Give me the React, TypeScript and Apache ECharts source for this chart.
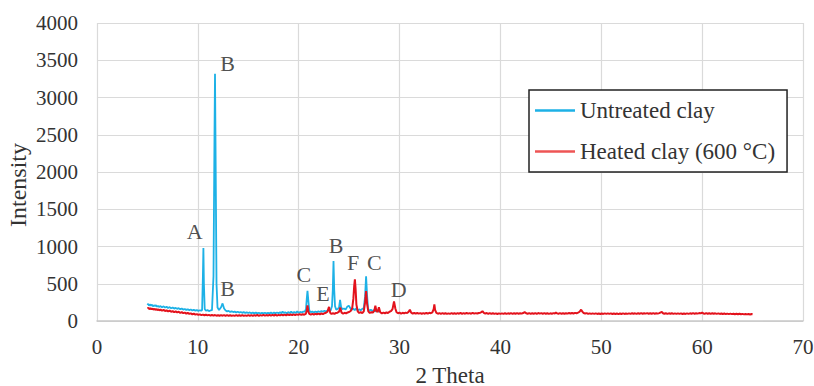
import React, { useEffect, useRef } from "react";
import * as echarts from "echarts";

// 2θ (deg), intensity — untreated clay
const untreatedPoints: [number, number][] = [
  [5.0, 215], [5.08, 232], [5.16, 205], [5.25, 222], [5.35, 208], [5.45, 218], [5.55, 198], [5.65, 210],
  [5.75, 201], [5.85, 212], [5.95, 192], [6.05, 204], [6.15, 190], [6.3, 199], [6.45, 185], [6.6, 196],
  [6.75, 181], [6.9, 190], [7.05, 175], [7.2, 186], [7.35, 171], [7.5, 180], [7.65, 167], [7.8, 176],
  [7.95, 163], [8.1, 172], [8.25, 158], [8.4, 167], [8.55, 153], [8.7, 161], [8.85, 149], [9.0, 157],
  [9.15, 146], [9.3, 154], [9.45, 142], [9.6, 150], [9.75, 139], [9.9, 147], [10.05, 136], [10.2, 144],
  [10.32, 137], [10.42, 148], [10.5, 600], [10.55, 980], [10.6, 500], [10.68, 160], [10.8, 138], [10.95, 146],
  [11.1, 133], [11.25, 141], [11.4, 146], [11.55, 600], [11.65, 2500], [11.7, 3320], [11.75, 2400], [11.85, 500],
  [11.95, 180], [12.1, 148], [12.3, 184], [12.45, 236], [12.6, 168], [12.75, 140], [12.9, 129], [13.05, 136],
  [13.2, 122], [13.35, 130], [13.5, 120], [13.65, 127], [13.8, 115], [13.95, 124], [14.1, 113], [14.25, 121],
  [14.4, 110], [14.55, 119], [14.7, 108], [14.85, 116], [15.0, 107], [15.15, 115], [15.3, 104], [15.45, 113],
  [15.6, 103], [15.75, 112], [15.9, 102], [16.05, 111], [16.2, 101], [16.35, 110], [16.5, 102], [16.65, 111],
  [16.8, 100], [16.95, 110], [17.1, 102], [17.25, 112], [17.4, 101], [17.55, 113], [17.7, 103], [17.85, 114],
  [18.0, 104], [18.15, 116], [18.3, 106], [18.4, 128], [18.5, 108], [18.65, 118], [18.8, 105], [18.95, 119],
  [19.1, 107], [19.25, 124], [19.4, 108], [19.55, 121], [19.7, 109], [19.85, 127], [20.0, 110], [20.15, 122],
  [20.3, 114], [20.45, 126], [20.6, 125], [20.72, 160], [20.8, 300], [20.87, 405], [20.95, 280], [21.05, 140],
  [21.2, 118], [21.35, 128], [21.5, 115], [21.65, 127], [21.8, 118], [21.95, 131], [22.1, 121], [22.25, 134],
  [22.4, 124], [22.55, 137], [22.7, 128], [22.85, 140], [23.0, 152], [23.15, 138], [23.3, 200], [23.38, 420],
  [23.45, 805], [23.52, 420], [23.6, 200], [23.72, 150], [23.88, 165], [24.0, 180], [24.1, 282], [24.2, 190],
  [24.32, 160], [24.5, 168], [24.65, 155], [24.8, 190], [24.97, 205], [25.1, 176], [25.25, 150], [25.4, 168],
  [25.55, 145], [25.7, 170], [25.85, 140], [26.0, 156], [26.15, 145], [26.3, 162], [26.45, 172], [26.58, 330],
  [26.68, 600], [26.78, 340], [26.88, 165], [27.0, 138], [27.15, 150], [27.3, 135], [27.45, 146], [27.6, 130],
  [27.8, 138], [28.0, 120],
];

// 2θ (deg), intensity — heated clay (600 °C)
const heatedPoints: [number, number][] = [
  [5.0, 168], [5.1, 178], [5.2, 160], [5.3, 170], [5.4, 158], [5.5, 167], [5.6, 152], [5.7, 163],
  [5.8, 150], [5.9, 160], [6.0, 146], [6.1, 156], [6.2, 143], [6.3, 152], [6.45, 139], [6.6, 149],
  [6.75, 134], [6.9, 143], [7.05, 129], [7.2, 139], [7.35, 124], [7.5, 133], [7.65, 119], [7.8, 128],
  [7.95, 115], [8.1, 124], [8.25, 110], [8.4, 119], [8.55, 105], [8.7, 113], [8.85, 100], [9.0, 108],
  [9.15, 95], [9.3, 103], [9.45, 90], [9.6, 98], [9.75, 86], [9.9, 93], [10.05, 82], [10.2, 89],
  [10.35, 79], [10.5, 86], [10.65, 77], [10.8, 84], [10.95, 75], [11.1, 82], [11.25, 73], [11.4, 80],
  [11.55, 72], [11.7, 80], [11.85, 71], [12.0, 78], [12.15, 70], [12.3, 79], [12.45, 71], [12.6, 80],
  [12.75, 70], [12.9, 78], [13.05, 69], [13.2, 77], [13.35, 68], [13.5, 76], [13.65, 69], [13.8, 78],
  [13.95, 68], [14.1, 77], [14.25, 69], [14.4, 79], [14.55, 68], [14.7, 76], [14.85, 69], [15.0, 78],
  [15.15, 70], [15.3, 80], [15.45, 70], [15.6, 79], [15.75, 71], [15.9, 81], [16.05, 70], [16.2, 79],
  [16.35, 72], [16.5, 82], [16.65, 71], [16.8, 80], [16.95, 73], [17.1, 83], [17.25, 72], [17.4, 82],
  [17.55, 74], [17.7, 84], [17.85, 73], [18.0, 83], [18.15, 75], [18.3, 86], [18.45, 76], [18.6, 85],
  [18.75, 77], [18.9, 88], [19.05, 78], [19.2, 87], [19.35, 79], [19.5, 90], [19.65, 80], [19.8, 89],
  [19.95, 82], [20.1, 92], [20.25, 83], [20.4, 91], [20.55, 85], [20.7, 95], [20.8, 140], [20.87, 210],
  [20.95, 130], [21.05, 96], [21.2, 86], [21.35, 95], [21.5, 87], [21.65, 97], [21.8, 88], [21.95, 99],
  [22.1, 90], [22.25, 101], [22.4, 92], [22.55, 104], [22.7, 110], [22.85, 125], [23.0, 190], [23.12, 112],
  [23.25, 95], [23.4, 104], [23.55, 96], [23.7, 108], [23.85, 112], [24.0, 125], [24.12, 182], [24.25, 112],
  [24.4, 100], [24.55, 110], [24.7, 102], [24.85, 115], [25.0, 120], [25.15, 135], [25.3, 170], [25.42, 300],
  [25.5, 470], [25.57, 560], [25.64, 430], [25.72, 220], [25.85, 130], [26.0, 108], [26.15, 118], [26.3, 106],
  [26.45, 130], [26.58, 250], [26.68, 400], [26.78, 230], [26.9, 130], [27.05, 108], [27.2, 118], [27.35, 112],
  [27.5, 140], [27.6, 205], [27.7, 135], [27.82, 120], [27.95, 185], [28.08, 118], [28.25, 102], [28.4, 112],
  [28.55, 104], [28.7, 115], [28.85, 108], [29.0, 124], [29.15, 132], [29.3, 160], [29.45, 262], [29.58, 168],
  [29.7, 118], [29.85, 104], [30.0, 112], [30.15, 100], [30.3, 110], [30.45, 102], [30.6, 113], [30.75, 106],
  [30.9, 125], [31.02, 152], [31.15, 112], [31.3, 100], [31.45, 108], [31.6, 98], [31.75, 107], [31.9, 99],
  [32.05, 106], [32.2, 97], [32.35, 105], [32.5, 98], [32.65, 108], [32.8, 100], [32.95, 110], [33.1, 104],
  [33.25, 116], [33.38, 160], [33.45, 222], [33.52, 150], [33.65, 108], [33.8, 98], [33.95, 106], [34.1, 96],
  [34.25, 105], [34.4, 97], [34.55, 104], [34.7, 95], [34.85, 103], [35.0, 96], [35.15, 105], [35.3, 97],
  [35.45, 104], [35.6, 96], [35.75, 106], [35.9, 98], [36.05, 108], [36.2, 97], [36.35, 105], [36.5, 98],
  [36.65, 107], [36.8, 99], [36.95, 106], [37.1, 98], [37.25, 109], [37.4, 99], [37.55, 106], [37.7, 100],
  [37.85, 108], [38.0, 112], [38.12, 120], [38.22, 132], [38.35, 110], [38.5, 100], [38.65, 107], [38.8, 97],
  [38.95, 106], [39.1, 96], [39.25, 104], [39.4, 95], [39.55, 103], [39.7, 94], [39.85, 102], [40.0, 95],
  [40.15, 103], [40.3, 96], [40.45, 104], [40.6, 95], [40.75, 103], [40.9, 97], [41.05, 105], [41.2, 96],
  [41.35, 104], [41.5, 97], [41.65, 106], [41.8, 98], [41.95, 104], [42.1, 99], [42.25, 107], [42.4, 119],
  [42.55, 104], [42.7, 97], [42.85, 105], [43.0, 96], [43.15, 104], [43.3, 98], [43.45, 106], [43.6, 97],
  [43.75, 107], [43.9, 99], [44.05, 106], [44.2, 98], [44.35, 105], [44.5, 97], [44.65, 104], [44.8, 96],
  [44.95, 103], [45.1, 98], [45.25, 106], [45.4, 100], [45.5, 114], [45.62, 102], [45.75, 97], [45.9, 105],
  [46.05, 98], [46.2, 104], [46.35, 97], [46.5, 105], [46.65, 99], [46.8, 107], [46.95, 100], [47.1, 108],
  [47.25, 101], [47.4, 109], [47.55, 104], [47.7, 112], [47.85, 124], [48.0, 152], [48.12, 126], [48.25, 108],
  [48.4, 100], [48.55, 106], [48.7, 96], [48.85, 103], [49.0, 95], [49.15, 102], [49.3, 96], [49.45, 103],
  [49.6, 95], [49.75, 101], [49.9, 94], [50.05, 101], [50.2, 95], [50.35, 102], [50.5, 96], [50.65, 103],
  [50.8, 95], [50.95, 102], [51.1, 94], [51.25, 101], [51.4, 95], [51.55, 100], [51.7, 93], [51.85, 101],
  [52.0, 94], [52.15, 102], [52.3, 95], [52.45, 101], [52.6, 96], [52.75, 103], [52.9, 96], [53.05, 104],
  [53.2, 97], [53.35, 103], [53.5, 96], [53.65, 104], [53.8, 98], [53.95, 105], [54.1, 97], [54.25, 104],
  [54.4, 99], [54.55, 106], [54.7, 98], [54.85, 104], [55.0, 97], [55.15, 105], [55.3, 98], [55.45, 104],
  [55.6, 99], [55.75, 106], [55.9, 116], [56.0, 122], [56.12, 104], [56.25, 97], [56.4, 104], [56.55, 96],
  [56.7, 103], [56.85, 97], [57.0, 104], [57.15, 96], [57.3, 102], [57.45, 95], [57.6, 103], [57.75, 96],
  [57.9, 102], [58.05, 94], [58.2, 101], [58.35, 95], [58.5, 102], [58.65, 96], [58.8, 103], [58.95, 97],
  [59.1, 105], [59.25, 98], [59.4, 104], [59.55, 99], [59.7, 106], [59.85, 103], [60.0, 114], [60.12, 102],
  [60.25, 98], [60.4, 106], [60.55, 97], [60.7, 104], [60.85, 96], [61.0, 104], [61.15, 97], [61.3, 103],
  [61.45, 96], [61.6, 102], [61.75, 95], [61.9, 101], [62.05, 94], [62.2, 100], [62.35, 93], [62.5, 99],
  [62.65, 92], [62.8, 99], [62.95, 92], [63.1, 98], [63.25, 91], [63.4, 97], [63.55, 90], [63.7, 97],
  [63.85, 90], [64.0, 96], [64.15, 89], [64.3, 95], [64.45, 89], [64.6, 95], [64.75, 88], [64.9, 94],
  [65.0, 91],
];

// peak labels: [2θ, intensity, phase]
const peakLabels: [number, number, string][] = [
  [9.69, 1195, "A"],
  [12.95, 3455, "B"],
  [12.95, 440, "B"],
  [20.5, 620, "C"],
  [22.4, 375, "E"],
  [23.7, 1020, "B"],
  [25.4, 790, "F"],
  [27.5, 790, "C"],
  [29.9, 420, "D"],
];

const seriesNames = ["Untreated clay", "Heated clay (600 °C)"];
const xTicks = { min: 0, max: 70, interval: 10 };
const yTicks = { min: 0, max: 4000, interval: 500 };
const axisTitles = { x: "2 Theta", y: "Intensity" };

const FONT = '"Liberation Serif", "Times New Roman", serif';
const TEXT = "#333333";

export default function App() {
  const ref = useRef<HTMLDivElement>(null);
  useEffect(() => {
    if (!ref.current) return;
    const chart = echarts.init(ref.current, undefined, { renderer: "svg" });
    chart.setOption({
      animation: false,
      backgroundColor: "#ffffff",
      textStyle: { fontFamily: FONT },
      grid: {
        left: 97,
        right: 11,
        top: 23,
        bottom: 65,
        containLabel: false,
        outerBoundsMode: "none",
      },
      legend: {
        data: seriesNames,
        orient: "vertical",
        left: 529,
        top: 90,
        icon: "rect",
        itemWidth: 40,
        itemHeight: 2.5,
        itemGap: 18,
        padding: [9, 12, 9, 6],
        borderColor: "#222222",
        borderWidth: 1.5,
        backgroundColor: "#ffffff",
        textStyle: { fontFamily: FONT, fontSize: 23, color: TEXT },
      },
      graphic: [
        {
          type: "text",
          x: 18,
          y: 185,
          rotation: Math.PI / 2,
          style: {
            text: axisTitles.y,
            fontFamily: FONT,
            fontSize: 24,
            fill: TEXT,
            align: "center",
            verticalAlign: "middle",
          },
        },
        {
          type: "text",
          x: 450,
          y: 375,
          style: {
            text: axisTitles.x,
            fontFamily: FONT,
            fontSize: 23,
            fill: TEXT,
            align: "center",
            verticalAlign: "middle",
          },
        },
      ],
      xAxis: {
        type: "value",
        min: xTicks.min,
        max: xTicks.max,
        interval: xTicks.interval,
        axisLine: { show: true, lineStyle: { color: "#c8c8c8", width: 1.5 } },
        axisTick: { show: false },
        axisLabel: {
          fontFamily: FONT,
          fontSize: 21,
          color: TEXT,
          margin: 15,
          overflow: "none",
          formatter: (v: number) => String(v),
        },
        splitLine: { show: true, lineStyle: { color: "#dadada", width: 1.2 } },
      },
      yAxis: {
        type: "value",
        min: yTicks.min,
        max: yTicks.max,
        interval: yTicks.interval,
        axisLine: { show: false },
        axisTick: { show: false },
        axisLabel: {
          fontFamily: FONT,
          fontSize: 21,
          color: TEXT,
          margin: 19,
          formatter: (v: number) => String(v),
        },
        splitLine: { show: true, lineStyle: { color: "#dadada", width: 1.2 } },
      },
      series: [
        {
          name: seriesNames[0],
          type: "line",
          data: untreatedPoints,
          showSymbol: false,
          symbol: "none",
          lineStyle: { color: "#1DB1E6", width: 1.8 },
          itemStyle: { color: "#1DB1E6" },
          z: 2,
        },
        {
          name: seriesNames[1],
          type: "line",
          data: heatedPoints,
          showSymbol: false,
          symbol: "none",
          lineStyle: { color: "#E3121C", width: 2 },
          itemStyle: { color: "#EE5555" },
          z: 3,
        },
        {
          name: "labels",
          type: "scatter",
          data: peakLabels.map((p) => ({ value: [p[0], p[1]], name: p[2] })),
          symbolSize: 1,
          itemStyle: { color: "rgba(0,0,0,0)" },
          silent: true,
          z: 4,
          label: {
            show: true,
            position: "inside",
            formatter: (p: any) => p.name,
            fontFamily: FONT,
            fontSize: 22,
            color: "#222222",
          },
        },
      ],
    });
    return () => chart.dispose();
  }, []);
  return (
    <div
      ref={ref}
      style={{ width: 814, height: 386, position: "absolute", left: 0, top: 0 }}
    />
  );
}
